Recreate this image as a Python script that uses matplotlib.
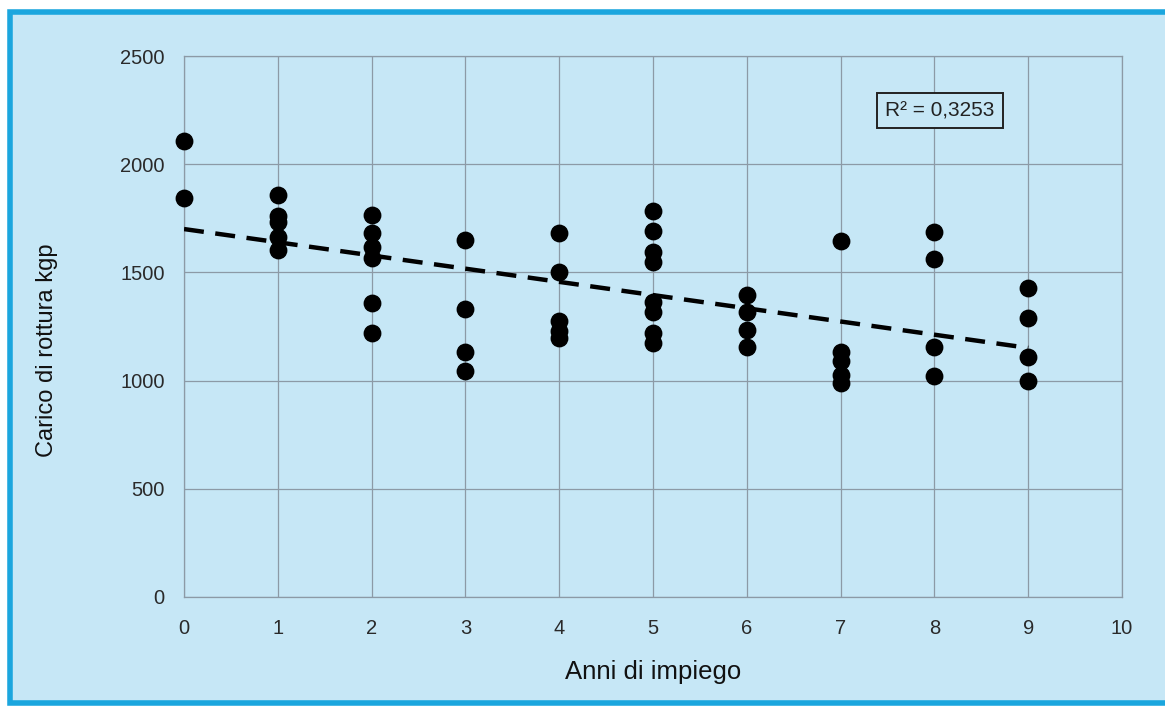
import matplotlib.pyplot as plt
import numpy as np
from matplotlib.patches import Rectangle

# anni di impiego e carico di rottura (kgp)
anni = [0, 0,
        1, 1, 1, 1, 1,
        2, 2, 2, 2, 2, 2,
        3, 3, 3, 3,
        4, 4, 4, 4, 4,
        5, 5, 5, 5, 5, 5, 5, 5,
        6, 6, 6, 6,
        7, 7, 7, 7, 7,
        8, 8, 8, 8,
        9, 9, 9, 9]
carico = [2105, 1845,
          1857, 1762, 1731, 1662, 1605,
          1765, 1680, 1617, 1565, 1358, 1222,
          1650, 1329, 1131, 1043,
          1684, 1502, 1275, 1228, 1199,
          1784, 1691, 1592, 1546, 1361, 1315, 1222, 1176,
          1394, 1315, 1236, 1153,
          1645, 1130, 1089, 1028, 991,
          1685, 1560, 1153, 1023,
          1430, 1290, 1110, 1000]
r2_text = 'R² = 0,3253'

bg = '#c6e7f6'
grid_col = '#8c9aa6'

plt.rcParams['font.family'] = ['Liberation Sans', 'DejaVu Sans']
fig = plt.figure(figsize=(11.65, 7.06), dpi=100, facecolor='white')
fig.patches.append(Rectangle((10 / 1165, 3 / 706), 1.1, 691 / 706, transform=fig.transFigure,
                             facecolor=bg, edgecolor='#1ba6de', linewidth=4, zorder=-10))

ax = fig.add_axes([184 / 1165, 109 / 706, 938 / 1165, 541 / 706])
ax.set_facecolor(bg)
ax.scatter(anni, carico, s=140, color='black', zorder=3, clip_on=False)

m, q = np.polyfit(anni, carico, 1)
xs = np.array([0, 9])
ax.plot(xs, m * xs + q, color='black', lw=3.2, ls=(0, (4.5, 2.6)), zorder=4)

ax.set_xlim(0, 10)
ax.set_ylim(0, 2500)
ax.set_xticks(range(0, 11))
ax.set_yticks(range(0, 2501, 500))
ax.grid(True, color=grid_col, lw=0.9)
ax.set_axisbelow(True)
for s in ax.spines.values():
    s.set_color(grid_col)
    s.set_linewidth(0.9)
ax.tick_params(length=0, labelsize=14.5, colors='#2a2a2a', pad=16)
ax.tick_params(axis='y', pad=14)
ax.set_xlabel('Anni di impiego', fontsize=18.5, color='#111111', labelpad=16)
ax.set_ylabel('Carico di rottura kgp', fontsize=17, color='#111111')
ax.yaxis.set_label_coords(-0.134, 0.457)

ax.text(0.806, 0.899, r2_text, transform=ax.transAxes, ha='center', va='center', fontsize=15,
        color='#222222', bbox=dict(boxstyle='square,pad=0.4', facecolor=bg, edgecolor='#222222', lw=1.4))

fig.savefig('out.png', dpi=100, facecolor='white')
